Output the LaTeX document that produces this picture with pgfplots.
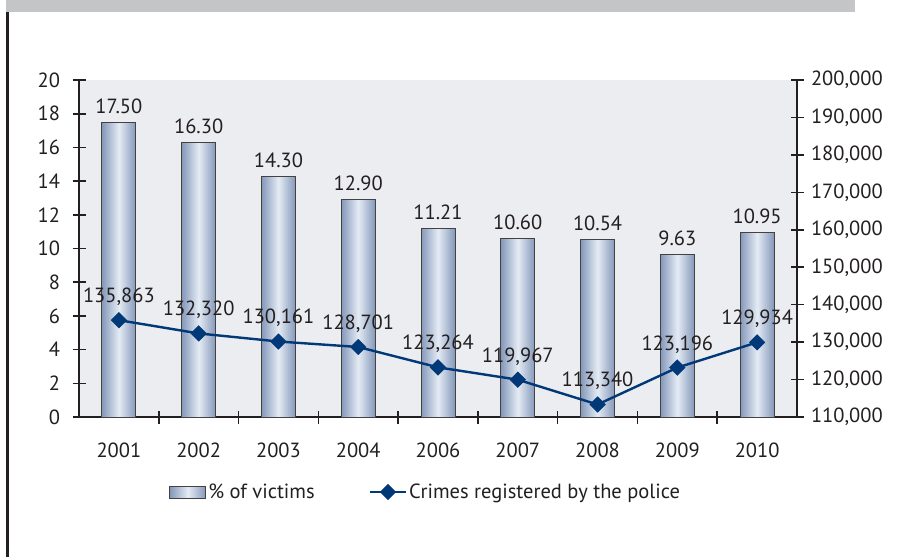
\documentclass[border=0pt]{standalone}
\usepackage{fontspec}
\setmainfont{PT Sans}
\usepackage{pgfplots}
\pgfplotsset{compat=1.18}
\definecolor{topgrey}{RGB}{196,197,199}
\definecolor{bggrey}{RGB}{236,237,240}
\definecolor{barEdge}{RGB}{132,152,186}
\definecolor{barMid}{RGB}{228,235,244}
\definecolor{navy}{RGB}{0,56,120}
\definecolor{txt}{RGB}{35,31,32}
\newcommand{\ff}{\fontsize{20.5}{24}\selectfont}
\pgfplotsset{
  commonaxis/.style={
    at={(79pt,-417pt)}, anchor=south west,
    scale only axis, width=718pt, height=337pt,
    xmin=-0.5, xmax=8.5,
    tick align=center, major tick length=13pt, minor tick length=13pt,
    every tick/.style={draw=txt, line width=1.6pt},
    axis line style={draw=txt, line width=1.6pt},
    tick label style={font=\ff, text=txt},
    /pgf/number format/assume math mode=true,
  },
  onebar/.style={ybar, bar width=34pt, bar shift=0pt, draw=txt!85, line width=0.9pt,
    left color=barEdge, right color=barEdge, middle color=barMid,
    nodes near coords,
    every node near coord/.append style={font=\ff, text=txt, anchor=south, yshift=5pt,
      /pgf/number format/.cd, fixed, zerofill, precision=2}},
}
\begin{document}
\begin{tikzpicture}[font=\ff]
\path[use as bounding box] (0,0) rectangle (907pt,-557pt);
\fill[topgrey] (6pt,0) rectangle (855pt,-12pt);
\fill[txt] (6.3pt,-12pt) rectangle (9.3pt,-557pt);
\begin{axis}[commonaxis,
  ymin=0, ymax=20, ytick={0,2,...,20},
  axis x line*=bottom, axis y line*=left,
  axis background/.style={fill=bggrey},
  xtick={0,...,8},
  xticklabels={2001,2002,2003,2004,2006,2007,2008,2009,2010},
  major x tick style={draw=none},
  minor xtick={0.5,1.5,...,7.5},
  xticklabel style={yshift=-16pt},
  yticklabel style={xshift=-9pt},
]
\addplot[onebar] coordinates {(0,17.50)};
\addplot[onebar] coordinates {(1,16.30)};
\addplot[onebar] coordinates {(2,14.30)};
\addplot[onebar] coordinates {(3,12.90)};
\addplot[onebar] coordinates {(4,11.21)};
\addplot[onebar] coordinates {(5,10.60)};
\addplot[onebar] coordinates {(6,10.54)};
\addplot[onebar] coordinates {(7,9.63)};
\addplot[onebar] coordinates {(8,10.95)};
\end{axis}
\begin{axis}[commonaxis,
  ymin=110000, ymax=200000, ytick={110000,120000,...,200000},
  axis y line*=right, axis x line=none,
  scaled y ticks=false,
  yticklabel style={xshift=4pt, /pgf/number format/.cd, fixed, 1000 sep={,}},
  legend columns=2,
  legend style={at={(0.483,-0.2226)}, anchor=center, draw=none, fill=none,
    font=\ff, text=txt, /tikz/every even column/.append style={column sep=52pt},
    nodes={inner sep=2pt}},
  legend cell align=left,
]
\addlegendimage{legend image code/.code={\path[draw=txt!85, line width=0.9pt, left color=barEdge, right color=barEdge, middle color=barMid] (0pt,-6pt) rectangle (36pt,6pt);}}
\addlegendentry{\% of victims}
\addplot[navy, line width=2.4pt, mark=square*, mark size=4.6pt,
  mark options={rotate=45, solid, fill=navy},
  nodes near coords,
  every node near coord/.append style={font=\ff, text=txt, anchor=south, yshift=10pt,
    /pgf/number format/.cd, fixed, 1000 sep={,}},
  legend image code/.code={\draw[navy, line width=2.4pt] (0pt,0pt) -- (36pt,0pt);
    \fill[navy] (18pt,0pt) ++(0pt,6.5pt) -- ++(6.5pt,-6.5pt) -- ++(-6.5pt,-6.5pt) -- ++(-6.5pt,6.5pt) -- cycle;}]
  coordinates {(0,135863) (1,132320) (2,130161) (3,128701) (4,123264) (5,119967) (6,113340) (7,123196) (8,129934)};
\addlegendentry{Crimes registered by the police}
\end{axis}
\end{tikzpicture}
\end{document}
